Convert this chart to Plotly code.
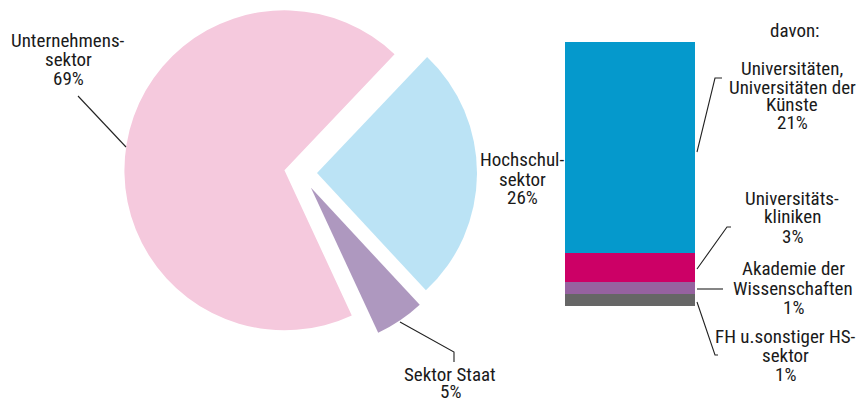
import math
import plotly.graph_objects as go

W, H = 864, 401
OFF = 8  # page body margin of the browser

# ---- data ----
pie_labels = ["Hochschulsektor", "Sektor Staat", "Unternehmenssektor"]
pie_values = [26, 5, 69]
pie_colors = ["#BBE3F5", "#AE98BF", "#F5C9DD"]
pie_pull = [0.10, 0.11, 0.105]

bar_labels = ["Universitäten, Universitäten der Künste", "Universitätskliniken",
              "Akademie der Wissenschaften", "FH u.sonstiger HS-sektor"]
bar_values = [20.9, 2.8, 1.2, 1.2]          # top to bottom
bar_colors = ["#0599CC", "#CC0066", "#9662A0", "#666666"]

FONT = "Roboto Condensed, Liberation Sans Narrow, DejaVu Sans Condensed, sans-serif"
TXT = "#1a1a1a"
FS = 19


def px(x):
    return (x - OFF) / W


def py(y):
    return 1 - (y - OFF) / H


fig = go.Figure()

# pie: one trace per slice, the "pull" of each slice realised by shifting its domain
ROT = 43.5
R = 160
CX, CY = 301, 173
total = sum(pie_values)
start = ROT
for i, (lab, val, col, pull) in enumerate(zip(pie_labels, pie_values, pie_colors, pie_pull)):
    span = 360 * val / total
    mid = math.radians(start + span / 2)
    vx = CX + pull * R * math.sin(mid)
    vy = CY - pull * R * math.cos(mid)
    start += span
    cols = [c if j == i else "rgba(0,0,0,0)" for j, c in enumerate(pie_colors)]
    fig.add_trace(go.Pie(
        labels=pie_labels, values=pie_values, sort=False,
        direction="clockwise", rotation=ROT,
        marker=dict(colors=cols, line=dict(width=0)),
        textinfo="none", hoverinfo="none", showlegend=False,
        domain=dict(x=[px(vx - R), px(vx + R)], y=[py(vy + R), py(vy - R)]),
    ))

for lab, val, col in reversed(list(zip(bar_labels, bar_values, bar_colors))):
    fig.add_trace(go.Bar(
        x=[0], y=[val], name=lab, marker=dict(color=col, line=dict(width=0)),
        xaxis="x", yaxis="y", showlegend=False, hoverinfo="name+y",
    ))

fig.update_layout(
    width=W, height=H, margin=dict(l=0, r=0, t=0, b=0),
    paper_bgcolor="white", plot_bgcolor="white",
    barmode="stack", bargap=0,
    xaxis=dict(domain=[px(565), px(695)], range=[-0.5, 0.5], visible=False, fixedrange=True),
    yaxis=dict(domain=[py(306), py(42)], range=[0, sum(bar_values)], visible=False, fixedrange=True),
    font=dict(family=FONT, size=FS, color=TXT),
)

# text labels: (center x, [(line, center y), ...]) in screen pixels
text_blocks = [
    (68, [("Unternehmens-", 41), ("sektor", 59.5), ("69%", 78)]),
    (522, [("Hochschul-", 160), ("sektor", 179), ("26%", 197)]),
    (450, [("Sektor Staat", 374), ("5%", 391.5)]),
    (795, [("davon:", 30)]),
    (792, [("Universitäten,", 69), ("Universitäten der", 87), ("Künste", 104.5), ("21%", 122)]),
    (792, [("Universitäts-", 198), ("kliniken", 217), ("3%", 237)]),
    (793, [("Akademie der", 268), ("Wissenschaften", 288), ("1%", 307)]),
    (785, [("FH u.sonstiger HS-", 336), ("sektor", 355), ("1%", 374)]),
]
for cx, lines in text_blocks:
    for t, cy in lines:
        fig.add_annotation(x=px(cx), y=py(cy), xref="paper", yref="paper",
                           text=t, showarrow=False, xanchor="center", yanchor="middle",
                           borderpad=0, font=dict(family=FONT, size=FS, color=TXT))

# leader lines (screen pixel polylines)
leaders = [
    [(78, 96), (126, 147)],
    [(400, 322), (454, 352), (454, 362)],
    [(697, 152), (715, 78), (722, 78)],
    [(697, 269), (727, 227), (731, 227)],
    [(697, 289), (723, 289)],
    [(697, 302), (715, 355), (718, 355)],
]
for pts in leaders:
    path = "M " + " L ".join(f"{px(x):.5f},{py(y):.5f}" for x, y in pts)
    fig.add_shape(type="path", path=path, xref="paper", yref="paper",
                  line=dict(color="#222222", width=1.1))

fig.write_html("out.html")
